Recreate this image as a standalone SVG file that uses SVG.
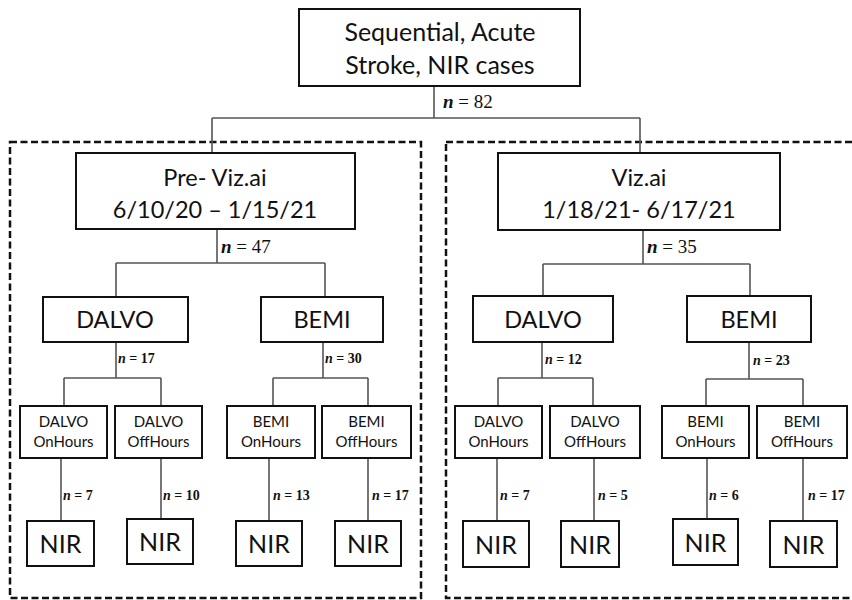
<svg xmlns="http://www.w3.org/2000/svg" width="852" height="600" viewBox="0 0 852 600">
<style>
.box{fill:#fff;stroke:#111;stroke-width:2}
.grp{fill:none;stroke:#111;stroke-width:2.5;stroke-dasharray:7,3.5}
.ln{fill:none;stroke:#555;stroke-width:1.6}
.t{font-family:Lato,"Open Sans",sans-serif;fill:#111;text-anchor:middle}
.big{font-size:25px}
.mid{font-size:23.5px}
.sm{font-size:15px}
.nir{font-size:25px}
.n{font-family:"Liberation Serif","Times New Roman",serif;fill:#111;font-size:14px;font-weight:bold}
.nl{font-size:19px;font-weight:normal}
</style>
<rect width="852" height="600" fill="#fff"/>
<g id="groups">
<rect class="grp" x="10" y="142" width="411" height="456"/>
<rect class="grp" x="446" y="142" width="420" height="456"/>
</g>
<g id="connectors">
<path class="ln" d="M434 86V118M212 118H640M212 118V153M640 118V153"/>
<path class="ln" d="M217 229V263M116 263H325M116 263V297M325 263V297"/>
<path class="ln" d="M643 230V264M543 264H750M543 264V296M750 264V296"/>
<path class="ln" d="M116 342V378M64 378H161M64 378V406M161 378V406"/>
<path class="ln" d="M323 342V378M273 378H368M273 378V406M368 378V406"/>
<path class="ln" d="M542 342V378M498 378H593M498 378V406M593 378V406"/>
<path class="ln" d="M749 342V379M706 379H803M706 379V406M803 379V406"/>
<path class="ln" d="M61 458V521M161 458V519M269 458V521M368 458V521"/>
<path class="ln" d="M497 458V521M594 458V521M707 458V519M803 458V521"/>
</g>
<g id="labels">
<text class="n nl" x="443" y="108"><tspan font-style="italic" font-weight="bold">n</tspan> = 82</text>
<text class="n nl" x="221" y="253"><tspan font-style="italic" font-weight="bold">n</tspan> = 47</text>
<text class="n nl" x="647" y="253"><tspan font-style="italic" font-weight="bold">n</tspan> = 35</text>
<text class="n" x="118" y="363"><tspan font-style="italic">n</tspan> = 17</text>
<text class="n" x="325" y="363"><tspan font-style="italic">n</tspan> = 30</text>
<text class="n" x="545" y="364"><tspan font-style="italic">n</tspan> = 12</text>
<text class="n" x="753" y="365"><tspan font-style="italic">n</tspan> = 23</text>
<text class="n" x="63" y="500"><tspan font-style="italic">n</tspan> = 7</text>
<text class="n" x="163" y="500"><tspan font-style="italic">n</tspan> = 10</text>
<text class="n" x="273" y="500"><tspan font-style="italic">n</tspan> = 13</text>
<text class="n" x="372" y="500"><tspan font-style="italic">n</tspan> = 17</text>
<text class="n" x="500" y="500"><tspan font-style="italic">n</tspan> = 7</text>
<text class="n" x="598" y="500"><tspan font-style="italic">n</tspan> = 5</text>
<text class="n" x="709" y="500"><tspan font-style="italic">n</tspan> = 6</text>
<text class="n" x="808" y="500"><tspan font-style="italic">n</tspan> = 17</text>
</g>
<g id="root">
<rect class="box" x="299" y="9" width="281" height="77"/>
<text class="t big" x="440" y="41">Sequential, Acute</text>
<text class="t big" x="440" y="74">Stroke, NIR cases</text>
</g>
<g id="pre">
<rect class="box" x="76" y="153" width="279" height="76"/>
<text class="t mid" x="215" y="186">Pre- Viz.ai</text>
<text class="t mid" x="215" y="218">6/10/20 – 1/15/21</text>
</g>
<g id="viz">
<rect class="box" x="498" y="153" width="282" height="77"/>
<text class="t mid" x="639" y="186">Viz.ai</text>
<text class="t mid" x="639" y="218">1/18/21- 6/17/21</text>
</g>
<g id="pre-dalvo"><rect class="box" x="43" y="297" width="145" height="45"/><text class="t mid" x="115" y="328">DALVO</text></g>
<g id="pre-bemi"><rect class="box" x="261" y="297" width="122" height="45"/><text class="t mid" x="322" y="328">BEMI</text></g>
<g id="viz-dalvo"><rect class="box" x="473" y="296" width="140" height="46"/><text class="t mid" x="543" y="328">DALVO</text></g>
<g id="viz-bemi"><rect class="box" x="687" y="296" width="124" height="46"/><text class="t mid" x="749" y="328">BEMI</text></g>
<g id="pre-dalvo-on"><rect class="box" x="20" y="406" width="87" height="52"/><text class="t sm" x="63.5" y="427">DALVO</text><text class="t sm" x="63.5" y="447">OnHours</text></g>
<g id="pre-dalvo-off"><rect class="box" x="115" y="406" width="87" height="52"/><text class="t sm" x="158.5" y="427">DALVO</text><text class="t sm" x="158.5" y="447">OffHours</text></g>
<g id="pre-bemi-on"><rect class="box" x="227" y="406" width="88" height="52"/><text class="t sm" x="271" y="427">BEMI</text><text class="t sm" x="271" y="447">OnHours</text></g>
<g id="pre-bemi-off"><rect class="box" x="322" y="406" width="89" height="52"/><text class="t sm" x="366.5" y="427">BEMI</text><text class="t sm" x="366.5" y="447">OffHours</text></g>
<g id="viz-dalvo-on"><rect class="box" x="455" y="406" width="87" height="52"/><text class="t sm" x="498.5" y="427">DALVO</text><text class="t sm" x="498.5" y="447">OnHours</text></g>
<g id="viz-dalvo-off"><rect class="box" x="550" y="406" width="90" height="52"/><text class="t sm" x="595" y="427">DALVO</text><text class="t sm" x="595" y="447">OffHours</text></g>
<g id="viz-bemi-on"><rect class="box" x="662" y="406" width="87" height="52"/><text class="t sm" x="705.5" y="427">BEMI</text><text class="t sm" x="705.5" y="447">OnHours</text></g>
<g id="viz-bemi-off"><rect class="box" x="757" y="406" width="90" height="52"/><text class="t sm" x="802" y="427">BEMI</text><text class="t sm" x="802" y="447">OffHours</text></g>
<g id="nir1"><rect class="box" x="27" y="521" width="67" height="45"/><text class="t nir" x="60.5" y="553">NIR</text></g>
<g id="nir2"><rect class="box" x="127" y="519" width="66" height="45"/><text class="t nir" x="160" y="551">NIR</text></g>
<g id="nir3"><rect class="box" x="236" y="521" width="66" height="45"/><text class="t nir" x="269" y="553">NIR</text></g>
<g id="nir4"><rect class="box" x="335" y="521" width="66" height="45"/><text class="t nir" x="368" y="553">NIR</text></g>
<g id="nir5"><rect class="box" x="463" y="521" width="66" height="46"/><text class="t nir" x="496" y="554">NIR</text></g>
<g id="nir6"><rect class="box" x="561" y="521" width="58" height="46"/><text class="t nir" x="590" y="554">NIR</text></g>
<g id="nir7"><rect class="box" x="673" y="519" width="65" height="46"/><text class="t nir" x="705.5" y="552">NIR</text></g>
<g id="nir8"><rect class="box" x="770" y="521" width="67" height="46"/><text class="t nir" x="803.5" y="554">NIR</text></g>
</svg>
